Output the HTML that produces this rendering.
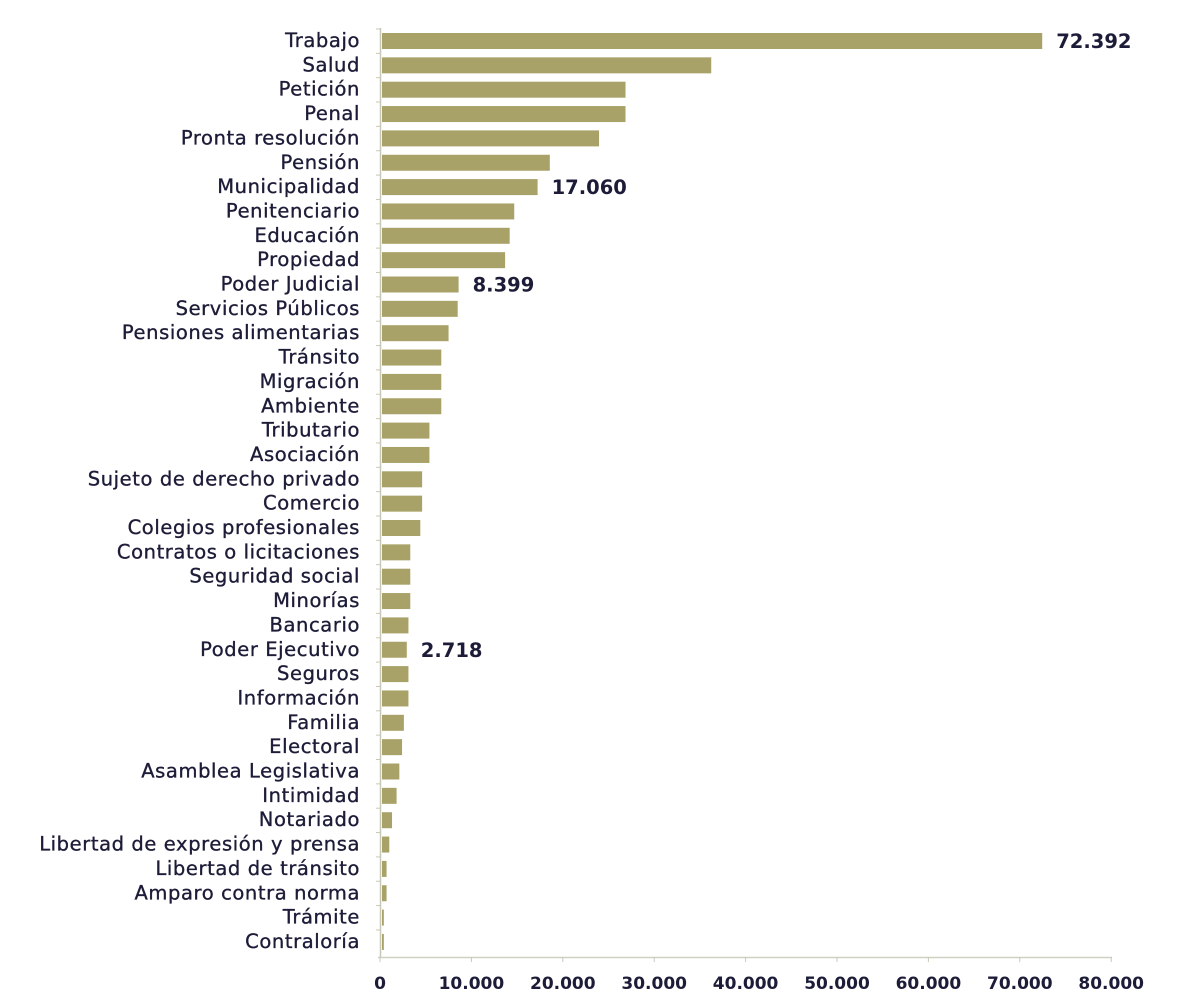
<!DOCTYPE html>
<html><head><meta charset="utf-8"><style>
html,body{margin:0;padding:0;background:#fff;}
svg{display:block;}
text{font-family:"DejaVu Sans","Liberation Sans",sans-serif;fill:#1c1c38;}
.l{font-size:19.5px;letter-spacing:0.6px;text-anchor:end;stroke:#1c1c38;stroke-width:0.35;}
.t{font-size:17px;font-weight:bold;text-anchor:middle;}
.v{font-size:19.5px;font-weight:bold;}
</style></head><body>
<svg width="1181" height="1003" viewBox="0 0 1181 1003">
<g id="bars"></g>
<line x1="380.5" y1="28" x2="380.5" y2="957" stroke="#c8c8b8" stroke-width="1.5"/>
<line x1="378" y1="957.5" x2="1112" y2="957.5" stroke="#d0d0c4" stroke-width="1.5"/>
<g id="ticks"></g>
</svg>
<script>
var d=[["Trabajo",72392],["Salud",36100],["Petición",26700],["Penal",26700],["Pronta resolución ",23800],["Pensión",18400],["Municipalidad",17060],["Penitenciario",14500],["Educación",14000],["Propiedad",13500],["Poder Judicial",8399],["Servicios Públicos",8300],["Pensiones alimentarias",7300],["Tránsito",6500],["Migración",6500],["Ambiente",6500],["Tributario",5200],["Asociación",5200],["Sujeto de derecho privado",4400],["Comercio",4400],["Colegios profesionales",4200],["Contratos o licitaciones",3100],["Seguridad social",3100],["Minorías",3100],["Bancario",2900],["Poder Ejecutivo",2718],["Seguros",2900],["Información",2900],["Familia",2400],["Electoral",2200],["Asamblea Legislativa",1900],["Intimidad",1600],["Notariado",1100],["Libertad de expresión y prensa",800],["Libertad de tránsito",500],["Amparo contra norma",500],["Trámite",200],["Contraloría",200]];
var lab={"Trabajo":"72.392","Municipalidad":"17.060","Poder Judicial":"8.399","Poder Ejecutivo":"2.718"};
var g=document.getElementById("bars"),s="";
var sc=9.12/1000;
d.forEach(function(r,i){var y=41+i*24.35;var w=Math.max(1.5,r[1]*sc);
s+='<rect x="382" y="'+(y-8)+'" width="'+w+'" height="16" fill="#a8a268"/>';
s+='<line x1="376" y1="'+(y-12)+'" x2="381" y2="'+(y-12)+'" stroke="#c8c8b8"/>';
s+='<text class="l" x="360" y="'+(y+6)+'">'+r[0]+'</text>';
if(lab[r[0]])s+='<text class="v" x="'+(382+w+14)+'" y="'+(y+7)+'">'+lab[r[0]]+'</text>';});
g.innerHTML=s;
var t="";for(var k=0;k<=8;k++){var x=380+k*91.4;t+='<line x1="'+x+'" y1="957" x2="'+x+'" y2="962" stroke="#c8c8b8"/><text class="t" x="'+x+'" y="989">'+(k==0?"0":k*10+".000")+'</text>';}
document.getElementById("ticks").innerHTML=t;
</script>
</body></html>
